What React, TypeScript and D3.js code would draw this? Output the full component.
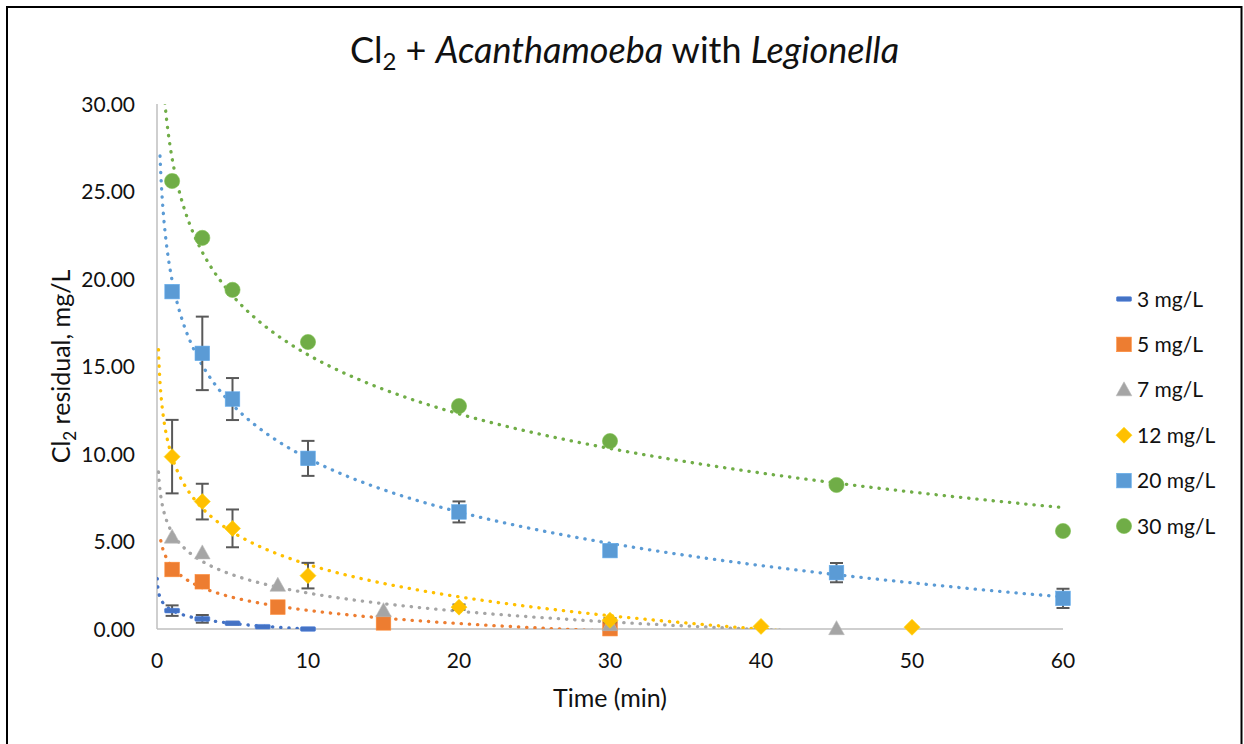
import React from "react";
import * as d3 from "d3";

// ---------- data ----------
const seriesNames = ["3 mg/L", "5 mg/L", "7 mg/L", "12 mg/L", "20 mg/L", "30 mg/L"];

const x3 = [1, 3, 5, 7, 10];
const y3 = [1.05, 0.58, 0.33, 0.13, 0.0];
const e3 = [0.3, 0.22, 0.08, 0, 0];

const x5 = [1, 3, 8, 15, 30];
const y5 = [3.4, 2.7, 1.25, 0.35, 0.02];
const e5 = [0, 0, 0, 0, 0];

const x7 = [1, 3, 8, 15, 30, 45];
const y7 = [5.25, 4.35, 2.5, 1.05, 0.25, 0.02];
const e7 = [0, 0, 0, 0, 0, 0];

const x12 = [1, 3, 5, 10, 20, 30, 40, 50];
const y12 = [9.85, 7.28, 5.75, 3.05, 1.25, 0.5, 0.15, 0.1];
const e12 = [2.1, 1.02, 1.08, 0.73, 0.15, 0.12, 0, 0];

const x20 = [1, 3, 5, 10, 20, 30, 45, 60];
const y20 = [19.28, 15.75, 13.14, 9.75, 6.69, 4.48, 3.22, 1.75];
const e20 = [0, 2.1, 1.2, 1.0, 0.6, 0, 0.55, 0.55];

const x30 = [1, 3, 5, 10, 20, 30, 45, 60];
const y30 = [25.6, 22.35, 19.38, 16.4, 12.74, 10.74, 8.23, 5.6];
const e30 = [0, 0, 0, 0, 0, 0, 0, 0];

const xTicks = [0, 10, 20, 30, 40, 50, 60];
const yTicks = [0, 5, 10, 15, 20, 25, 30];

// trendline backward-forecast start (x value where each dotted trend begins)
const trendStart = [0.02, 0.25, 0.1, 0.1, 0.2, 0.2];

const colors = ["#4472C4", "#ED7D31", "#A5A5A5", "#FFC000", "#5B9BD5", "#70AD47"];
const markerTypes = ["dash", "square", "triangle", "diamond", "square", "circle"];

const seriesX = [x3, x5, x7, x12, x20, x30];
const seriesY = [y3, y5, y7, y12, y20, y30];
const seriesE = [e3, e5, e7, e12, e20, e30];

// ---------- layout ----------
const W = 1244;
const H = 744;
const plotL = 157;
const plotR = 1063;
const plotT = 104;
const plotB = 629;
const FONT = "Lato, 'Open Sans', sans-serif";
const TEXT = "#111111";

const xScale = d3.scaleLinear().domain([0, 60]).range([plotL, plotR]);
const yScale = d3.scaleLinear().domain([0, 30]).range([plotB, plotT]);

function logFit(xs: number[], ys: number[]) {
  const lx = xs.map(Math.log);
  const mx = d3.mean(lx) as number;
  const my = d3.mean(ys) as number;
  let sxy = 0;
  let sxx = 0;
  lx.forEach((v, i) => {
    sxy += (v - mx) * (ys[i] - my);
    sxx += (v - mx) * (v - mx);
  });
  const b = sxy / sxx;
  const a = my - b * mx;
  return { a, b };
}

function Marker({ type, cx, cy, color }: { type: string; cx: number; cy: number; color: string }) {
  const stroke = d3.color(color)!.brighter(0.3).toString();
  if (type === "dash") {
    return <rect x={cx - 7.5} y={cy - 2.3} width={15} height={4.6} rx={1} fill={color} stroke={stroke} strokeWidth={0.6} />;
  }
  if (type === "square") {
    return <rect x={cx - 7.3} y={cy - 7.3} width={14.6} height={14.6} fill={color} stroke={stroke} strokeWidth={0.6} />;
  }
  if (type === "triangle") {
    const p = [
      [cx, cy - 8],
      [cx + 7.8, cy + 6],
      [cx - 7.8, cy + 6],
    ];
    return <polygon points={p.map((q) => q.join(",")).join(" ")} fill={color} stroke={stroke} strokeWidth={0.6} />;
  }
  if (type === "diamond") {
    const p = [
      [cx, cy - 8],
      [cx + 8, cy],
      [cx, cy + 8],
      [cx - 8, cy],
    ];
    return <polygon points={p.map((q) => q.join(",")).join(" ")} fill={color} stroke={stroke} strokeWidth={0.6} />;
  }
  return <circle cx={cx} cy={cy} r={7.6} fill={color} stroke={stroke} strokeWidth={0.6} />;
}

export default function App() {
  const line = d3
    .line<[number, number]>()
    .x((d) => xScale(d[0]))
    .y((d) => yScale(d[1]));

  const trends = seriesX.map((xs, i) => {
    const { a, b } = logFit(xs, seriesY[i]);
    const x0 = trendStart[i];
    const x1 = d3.max(xs) as number;
    const n = 400;
    const pts: [number, number][] = d3.range(n + 1).map((k) => {
      const x = Math.exp(Math.log(x0) + (k / n) * (Math.log(x1) - Math.log(x0)));
      return [x, a + b * Math.log(x)];
    });
    return line(pts) as string;
  });

  const legendY0 = 299;
  const legendStep = 45.4;

  return (
    <svg
      width={W}
      height={H}
      style={{ position: "absolute", left: 0, top: 0, background: "#fff" }}
      fontFamily={FONT}
    >
      <defs>
        <clipPath id="plotClip">
          <rect x={plotL} y={plotT} width={plotR - plotL} height={plotB - plotT} />
        </clipPath>
      </defs>
      <rect x={0} y={0} width={W} height={H} fill="#fff" />
      <rect x={7} y={7} width={1234.5} height={760} fill="none" stroke="#000" strokeWidth={2} />

      {/* title */}
      <text x={624.5} y={63} textAnchor="middle" fontSize={36} fill={TEXT}>
        Cl
        <tspan dy={7} fontSize={24}>2</tspan>
        <tspan dy={-7}>{" + "}</tspan>
        <tspan fontStyle="italic">Acanthamoeba</tspan>
        <tspan>{" with "}</tspan>
        <tspan fontStyle="italic">Legionella</tspan>
      </text>

      {/* axes */}
      <line x1={plotL} x2={plotL} y1={plotT} y2={plotB} stroke="#BFBFBF" strokeWidth={1.5} />
      <line x1={plotL} x2={plotR} y1={plotB} y2={plotB} stroke="#BFBFBF" strokeWidth={1.5} />

      {yTicks.map((t) => (
        <text key={"y" + t} x={135} y={yScale(t)} dy="0.36em" textAnchor="end" fontSize={21} fill={TEXT}>
          {d3.format(".2f")(t)}
        </text>
      ))}
      {xTicks.map((t) => (
        <text key={"x" + t} x={xScale(t)} y={668} textAnchor="middle" fontSize={21} fill={TEXT}>
          {t}
        </text>
      ))}

      <text x={(plotL + plotR) / 2} y={707} textAnchor="middle" fontSize={25} fill={TEXT}>
        Time (min)
      </text>
      <text transform={`translate(70,${(plotT + plotB) / 2}) rotate(-90)`} textAnchor="middle" fontSize={25} fill={TEXT}>
        Cl
        <tspan dy={6} fontSize={17}>2</tspan>
        <tspan dy={-6}>{" residual, mg/L"}</tspan>
      </text>

      {/* trendlines */}
      <g clipPath="url(#plotClip)">
        {trends.map((d, i) => (
          <path
            key={"t" + i}
            d={d}
            fill="none"
            stroke={colors[i]}
            strokeWidth={3.3}
            strokeLinecap="round"
            strokeDasharray="0.3 7.9"
          />
        ))}
      </g>

      {/* series: error bars then markers */}
      {seriesX.map((xs, i) => (
        <g key={"s" + i}>
          {xs.map((x, j) => {
            const e = seriesE[i][j];
            if (!e) return null;
            const cx = xScale(x);
            const yt = yScale(seriesY[i][j] + e);
            const yb = yScale(seriesY[i][j] - e);
            return (
              <g key={"e" + j} stroke="#595959" strokeWidth={2}>
                <line x1={cx} x2={cx} y1={yt} y2={yb} />
                <line x1={cx - 6.5} x2={cx + 6.5} y1={yt} y2={yt} />
                <line x1={cx - 6.5} x2={cx + 6.5} y1={yb} y2={yb} />
              </g>
            );
          })}
          {xs.map((x, j) => (
            <Marker key={"m" + j} type={markerTypes[i]} cx={xScale(x)} cy={yScale(seriesY[i][j])} color={colors[i]} />
          ))}
        </g>
      ))}

      {/* legend */}
      {seriesNames.map((name, i) => {
        const y = legendY0 + i * legendStep;
        return (
          <g key={"l" + i}>
            <Marker type={markerTypes[i]} cx={1124} cy={y} color={colors[i]} />
            <text x={1137} y={y} dy="0.36em" fontSize={21} fill={TEXT}>
              {name}
            </text>
          </g>
        );
      })}
    </svg>
  );
}
